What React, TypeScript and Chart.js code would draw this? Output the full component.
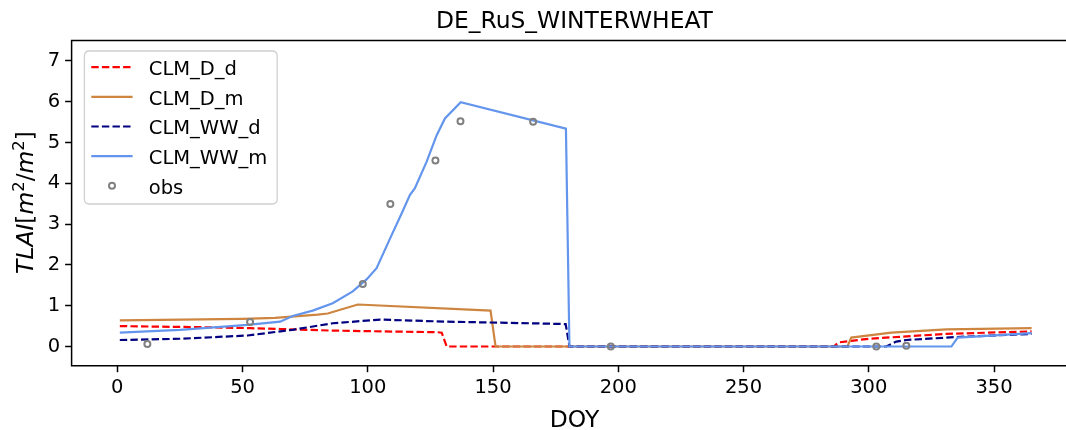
import React, { useEffect, useRef } from "react";
import { Chart, registerables } from "chart.js";

Chart.register(...registerables);

const TITLE = "DE_RuS_WINTERWHEAT";
const X_LABEL = "DOY";
const X_TICKS = [0, 50, 100, 150, 200, 250, 300, 350];
const Y_TICKS = [0, 1, 2, 3, 4, 5, 6, 7];
const X_MIN = -18.25;
const X_MAX = 383.25;
const Y_MIN = -0.47;
const Y_MAX = 7.5;

const D_D_X = [1, 38, 53, 65, 86, 128, 129.5, 131.5, 286, 288, 293, 300, 331, 365];
const D_D_Y = [0.5, 0.47, 0.45, 0.43, 0.39, 0.35, 0.34, 0, 0, 0.1, 0.14, 0.19, 0.31, 0.37];

const D_M_X = [1, 50, 63, 80, 84, 96, 149, 151, 291.5, 293, 309, 331, 365];
const D_M_Y = [0.64, 0.68, 0.7, 0.78, 0.81, 1.03, 0.88, 0, 0, 0.22, 0.34, 0.42, 0.45];

const WW_D_X = [1, 25, 52, 70, 86, 105, 131, 165, 179, 180.5, 307, 311, 315, 334, 365];
const WW_D_Y = [0.16, 0.19, 0.27, 0.41, 0.57, 0.66, 0.61, 0.57, 0.55, 0, 0, 0.12, 0.16, 0.23, 0.31];

const WW_M_X = [1, 25, 52, 65, 70, 78, 86, 94, 99.6, 103.5, 109.5, 113.5, 116.8, 118.8, 123.5, 127.5, 130.8, 137.1, 179.1, 180.5, 333, 335.5, 365];
const WW_M_Y = [0.34, 0.41, 0.53, 0.61, 0.75, 0.88, 1.06, 1.35, 1.65, 1.92, 2.73, 3.26, 3.71, 3.88, 4.53, 5.18, 5.59, 5.99, 5.34, 0, 0, 0.22, 0.33];

const OBS_X = [12, 53, 98, 109, 127, 137, 166, 197, 303, 315];
const OBS_Y = [0.06, 0.6, 1.53, 3.49, 4.56, 5.52, 5.51, 0, 0, 0.02];

const SERIES_NAMES = ["CLM_D_d", "CLM_D_m", "CLM_WW_d", "CLM_WW_m", "obs"];
const SERIES_COLORS = ["#ff0000", "#cd853f", "#000080", "#6495ed", "#808080"];

const FONT = "'DejaVu Sans', sans-serif";
const DASH = [7.4, 3.2];
const CANVAS_W = 1090;

const pts = (xs: number[], ys: number[]) => xs.map((x, i) => ({ x, y: ys[i] }));

const decor = {
  id: "decor",
  afterDatasetsDraw(chart: any) {
    const ctx = chart.ctx as CanvasRenderingContext2D;
    const a = chart.chartArea;
    ctx.save();
    // frame
    ctx.strokeStyle = "#000";
    ctx.lineWidth = 1.5;
    ctx.setLineDash([]);
    ctx.beginPath();
    ctx.moveTo(a.right, a.top);
    ctx.lineTo(a.left, a.top);
    ctx.lineTo(a.left, a.bottom);
    ctx.lineTo(a.right, a.bottom);
    ctx.lineTo(a.right, a.top);
    ctx.stroke();

    const cx = (a.left + a.right) / 2;
    ctx.fillStyle = "#000";
    ctx.textAlign = "center";
    ctx.textBaseline = "alphabetic";
    ctx.font = `23.4px ${FONT}`;
    ctx.fillText(TITLE, cx, 28.3);
    ctx.fillText(X_LABEL, cx, 427);

    // y label: TLAI[m^2/m^2]
    const big = 23.4;
    const small = 16.4;
    const parts: { t: string; font: string; dy: number }[] = [
      { t: "TLAI", font: `italic ${big}px ${FONT}`, dy: 0 },
      { t: "[", font: `${big}px ${FONT}`, dy: 0 },
      { t: "m", font: `italic ${big}px ${FONT}`, dy: 0 },
      { t: "2", font: `${small}px ${FONT}`, dy: -9.5 },
      { t: "/", font: `${big}px ${FONT}`, dy: 0 },
      { t: "m", font: `italic ${big}px ${FONT}`, dy: 0 },
      { t: "2", font: `${small}px ${FONT}`, dy: -9.5 },
      { t: "]", font: `${big}px ${FONT}`, dy: 0 },
    ];
    let total = 0;
    const widths = parts.map((p) => {
      ctx.font = p.font;
      const w = ctx.measureText(p.t).width;
      total += w;
      return w;
    });
    ctx.save();
    ctx.translate(33.3, 202.5);
    ctx.rotate(-Math.PI / 2);
    ctx.textAlign = "left";
    let px = -total / 2;
    parts.forEach((p, i) => {
      ctx.font = p.font;
      ctx.fillText(p.t, px, p.dy);
      px += widths[i];
    });
    ctx.restore();

    // legend
    const lx0 = 84.4, ly0 = 51, lw = 192.8, lh = 153, r = 5;
    ctx.beginPath();
    ctx.moveTo(lx0 + r, ly0);
    ctx.lineTo(lx0 + lw - r, ly0);
    ctx.quadraticCurveTo(lx0 + lw, ly0, lx0 + lw, ly0 + r);
    ctx.lineTo(lx0 + lw, ly0 + lh - r);
    ctx.quadraticCurveTo(lx0 + lw, ly0 + lh, lx0 + lw - r, ly0 + lh);
    ctx.lineTo(lx0 + r, ly0 + lh);
    ctx.quadraticCurveTo(lx0, ly0 + lh, lx0, ly0 + lh - r);
    ctx.lineTo(lx0, ly0 + r);
    ctx.quadraticCurveTo(lx0, ly0, lx0 + r, ly0);
    ctx.closePath();
    ctx.fillStyle = "rgba(255,255,255,0.8)";
    ctx.fill();
    ctx.strokeStyle = "#d0d0d0";
    ctx.lineWidth = 1.3;
    ctx.stroke();

    const rowY0 = 67.2, rowStep = 29.65;
    SERIES_NAMES.forEach((name, i) => {
      const y = rowY0 + i * rowStep;
      ctx.strokeStyle = SERIES_COLORS[i];
      if (i < 4) {
        ctx.lineWidth = 2.2;
        ctx.setLineDash(i === 0 || i === 2 ? DASH : []);
        ctx.beginPath();
        ctx.moveTo(91.3, y);
        ctx.lineTo(132.6, y);
        ctx.stroke();
        ctx.setLineDash([]);
      } else {
        ctx.lineWidth = 2;
        ctx.beginPath();
        ctx.arc(112, y, 3, 0, Math.PI * 2);
        ctx.fillStyle = "#fff";
        ctx.fill();
        ctx.stroke();
      }
      ctx.fillStyle = "#000";
      ctx.font = `19.5px ${FONT}`;
      ctx.textAlign = "left";
      ctx.fillText(name, 148.8, y + 7.8);
    });
    ctx.restore();
  },
};

export default function App() {
  const ref = useRef<HTMLCanvasElement | null>(null);
  useEffect(() => {
    if (!ref.current) return;
    const lineDs = (i: number, xs: number[], ys: number[], dashed: boolean, order: number) => ({
      type: "line" as const,
      label: SERIES_NAMES[i],
      data: pts(xs, ys),
      borderColor: SERIES_COLORS[i],
      backgroundColor: SERIES_COLORS[i],
      borderWidth: 2.2,
      borderDash: dashed ? DASH : [],
      pointRadius: 0,
      pointHoverRadius: 0,
      tension: 0,
      fill: false,
      order,
    });
    const chart = new Chart(ref.current, {
      type: "line",
      data: {
        datasets: [
          lineDs(0, D_D_X, D_D_Y, true, 5),
          lineDs(1, D_M_X, D_M_Y, false, 4),
          lineDs(2, WW_D_X, WW_D_Y, true, 3),
          lineDs(3, WW_M_X, WW_M_Y, false, 2),
          {
            type: "scatter" as const,
            label: SERIES_NAMES[4],
            data: pts(OBS_X, OBS_Y),
            showLine: false,
            pointRadius: 3,
            pointHoverRadius: 3,
            pointBorderWidth: 2,
            pointBorderColor: SERIES_COLORS[4],
            pointBackgroundColor: "rgba(255,255,255,0)",
            order: 1,
          } as any,
        ],
      },
      options: {
        animation: false,
        responsive: false,
        events: [],
        layout: { padding: { left: 0, top: 40.5, right: 12.7, bottom: 0 } },
        plugins: {
          legend: { display: false },
          title: { display: false },
          tooltip: { enabled: false },
        },
        scales: {
          x: {
            type: "linear",
            min: X_MIN,
            max: X_MAX,
            afterBuildTicks: (axis: any) => {
              axis.ticks = X_TICKS.map((v) => ({ value: v }));
            },
            afterFit: (axis: any) => {
              axis.height = 430 - 365.7;
              axis.paddingLeft = 0;
              axis.paddingRight = 0;
            },
            border: { display: false },
            grid: {
              drawOnChartArea: false,
              drawTicks: true,
              tickLength: 6.5,
              tickColor: "#000",
              tickWidth: 1.5,
              color: "#000",
            },
            ticks: {
              color: "#000",
              font: { family: FONT, size: 19.5 },
              padding: 4,
              maxRotation: 0,
              autoSkip: false,
            },
          },
          y: {
            type: "linear",
            min: Y_MIN,
            max: Y_MAX,
            afterBuildTicks: (axis: any) => {
              axis.ticks = Y_TICKS.map((v) => ({ value: v }));
            },
            afterFit: (axis: any) => {
              axis.width = 71.6;
            },
            border: { display: false },
            grid: {
              drawOnChartArea: false,
              drawTicks: true,
              tickLength: 6.5,
              tickColor: "#000",
              tickWidth: 1.5,
              color: "#000",
            },
            ticks: {
              color: "#000",
              font: { family: FONT, size: 19.5 },
              padding: 5,
              autoSkip: false,
            },
          },
        },
      },
      plugins: [decor],
    });
    return () => chart.destroy();
  }, []);
  return (
    <div style={{ position: "absolute", left: 0, top: 0, width: 1066, height: 430, overflow: "hidden", background: "#fff" }}>
      <canvas ref={ref} width={CANVAS_W} height={430} style={{ display: "block", width: CANVAS_W, height: 430 }} />
    </div>
  );
}
